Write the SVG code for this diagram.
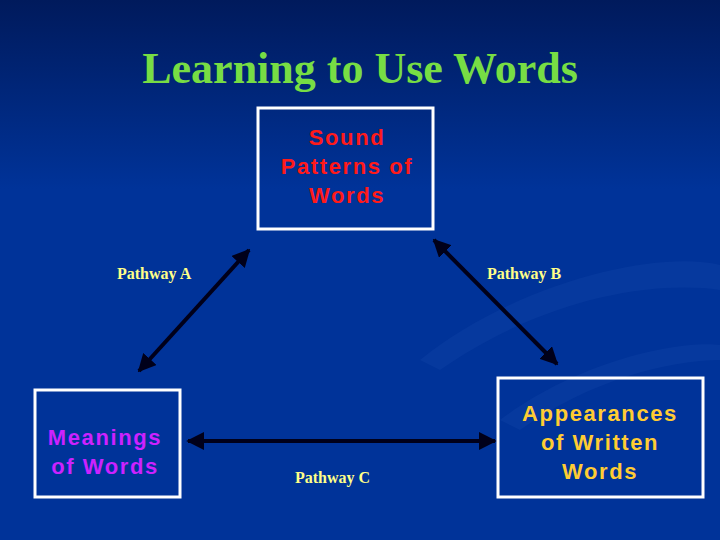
<svg xmlns="http://www.w3.org/2000/svg" width="720" height="540" viewBox="0 0 720 540">
<defs>
<linearGradient id="bg" x1="0" y1="0" x2="0" y2="1">
<stop offset="0" stop-color="#001a5c"/><stop offset="0.35" stop-color="#003399"/><stop offset="1" stop-color="#003399"/>
</linearGradient>
<marker id="ah" viewBox="0 0 10 10" refX="9" refY="5" markerWidth="4.5" markerHeight="4.5" orient="auto-start-reverse">
<path d="M0,0 L10,5 L0,10 z" fill="#00001a"/>
</marker>
<style>
.box{fill:none;stroke:#fff;stroke-width:3}
.t{font-family:"Liberation Sans",Arial,sans-serif;font-weight:bold;font-size:22px;text-anchor:middle;letter-spacing:1.6px}
.p{font-family:"Liberation Serif","Times New Roman",serif;font-weight:bold;font-size:16px;fill:#ffff88}
.c{stroke:#00001a;stroke-width:4;marker-start:url(#ah);marker-end:url(#ah)}
</style>
</defs>
<rect width="720" height="540" fill="url(#bg)"/>
<path d="M420,360 C520,280 660,250 720,265 L720,290 C650,280 540,300 440,370 Z" fill="#0b3fa3" opacity="0.5"/>
<path d="M500,420 C580,360 680,340 720,345 L720,360 C670,360 590,380 520,430 Z" fill="#0b3fa3" opacity="0.5"/>
<text x="360" y="83" text-anchor="middle" font-family="Liberation Serif,'Times New Roman',serif" font-weight="bold" font-size="44" fill="#77dd44">Learning to Use Words</text>
<g id="connectors">
<line class="c" x1="249" y1="250" x2="139" y2="371"/>
<line class="c" x1="434" y1="240" x2="557" y2="364"/>
<line class="c" x1="188" y1="441" x2="495" y2="441"/>
</g>
<g id="sound"><rect class="box" x="258" y="108" width="175" height="121"/>
<text class="t" fill="#ff1a1a"><tspan x="347" y="145">Sound</tspan><tspan x="347" y="174">Patterns of</tspan><tspan x="347" y="203">Words</tspan></text></g>
<g id="meanings"><rect class="box" x="35" y="390" width="145" height="107"/>
<text class="t" fill="#cc22ff"><tspan x="105" y="445">Meanings</tspan><tspan x="105" y="474">of Words</tspan></text></g>
<g id="appearances"><rect class="box" x="498" y="378" width="205" height="119"/>
<text class="t" fill="#ffcc33"><tspan x="600" y="421">Appearances</tspan><tspan x="600" y="450">of Written</tspan><tspan x="600" y="479">Words</tspan></text></g>
<text class="p" x="117" y="279">Pathway A</text>
<text class="p" x="487" y="279">Pathway B</text>
<text class="p" x="295" y="483">Pathway C</text>
</svg>
